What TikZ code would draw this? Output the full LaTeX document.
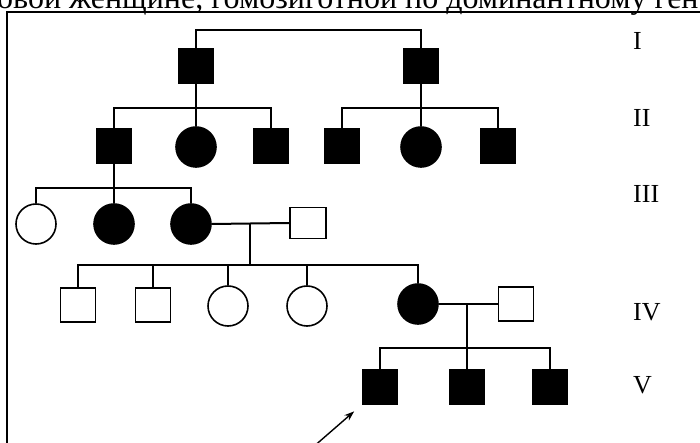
\documentclass[tikz,border=0pt]{standalone}
\usepackage{fontspec}
\setmainfont{Liberation Serif}
\usetikzlibrary{arrows.meta}
\begin{document}
\begin{tikzpicture}[x=1pt,y=-1pt,
  male/.style={rectangle, draw=black, line width=1.6pt, minimum width=35pt, minimum height=34pt, inner sep=0pt, fill=white},
  female/.style={circle, draw=black, line width=1.6pt, minimum size=40pt, inner sep=0pt, fill=white},
  aff/.style={fill=black},
  conn/.style={line width=2pt},
  gen/.style={font=\fontsize{26}{26}\selectfont, inner sep=0pt, anchor=base west},
  frame/.style={line width=1.5pt}]
\useasboundingbox (0,0) rectangle (700,443);
\fill[white] (0,0) rectangle (700,443);
% header text (cut off at top, as in the reference)
\node[anchor=base west, inner sep=0pt, font=\fontsize{32}{32}\selectfont] (hdr) at (-3,9) {овой женщине, гомозиготной по доминантному ген};
% frame
\draw[frame] (7,445) -- (7,12) -- (702,12);
% generation labels
\node[gen] (gI) at (633,50) {I};
\node[gen] (gII) at (633,127) {II};
\node[gen] (gIII) at (633,203) {III};
\node[gen] (gIV) at (633,320) {IV};
\node[gen] (gV) at (633,393) {V};
% generation I
\node[male,aff] (a1) at (196,66) {};
\node[male,aff] (a2) at (421,66) {};
\coordinate (m1) at (308,30);
% generation II
\node[male,aff] (b1) at (114,146) {};
\node[female,aff] (b2) at (196,147) {};
\node[male,aff] (b3) at (271,146) {};
\node[male,aff] (b4) at (342,146) {};
\node[female,aff] (b5) at (421,147) {};
\node[male,aff] (b6) at (498,146) {};
\coordinate (s1) at (196,108);
\coordinate (s2) at (421,108);
% generation III
\node[female] (c1) at (36,224) {};
\node[female,aff] (c2) at (114,224) {};
\node[female,aff] (c3) at (191,224) {};
\node[male,minimum width=36pt,minimum height=31pt] (c4) at (308,223) {};
\coordinate (s3) at (114,188);
\coordinate (m3) at (250,223);
\coordinate (s4) at (250,265);
% generation IV
\node[male] (d1) at (78,305) {};
\node[male] (d2) at (153,305) {};
\node[female] (d3) at (228,306) {};
\node[female] (d4) at (307,306) {};
\node[female,aff] (d5) at (418,304) {};
\node[male] (d6) at (516,304) {};
\coordinate (m4) at (467,304);
\coordinate (s5) at (467,348);
% generation V
\node[male,aff] (e1) at (380,387) {};
\node[male,aff] (e2) at (467,387) {};
\node[male,aff] (e3) at (550,387) {};
\coordinate (ar0) at (312,448);
% connectors
\draw[conn] (a1.north) |- (m1) -| (a2.north);
\draw[conn] (a1.south) -- (b2.north);
\draw[conn] (b1.north) |- (s1) -| (b3.north);
\draw[conn] (a2.south) -- (b5.north);
\draw[conn] (b4.north) |- (s2) -| (b6.north);
\draw[conn] (b1.south) -- (c2.north);
\draw[conn] (c1.north) |- (s3) -| (c3.north);
\draw[conn] (c3.east) -- (c4.west);
\draw[conn] (m3) -- (s4);
\draw[conn] (d1.north) |- (s4) -| (d5.north);
\draw[conn] (d2.north) -- (d2.north |- s4);
\draw[conn] (d3.north) -- (d3.north |- s4);
\draw[conn] (d4.north) -- (d4.north |- s4);
\draw[conn] (d5.east) -- (d6.west);
\draw[conn] (m4) -- (e2.north);
\draw[conn] (e1.north) |- (s5) -| (e3.north);
\draw[line width=1.4pt, -{Stealth[length=10pt,width=7pt]}, shorten >=10pt] (ar0) -- (e1.south west);
\end{tikzpicture}
\end{document}
